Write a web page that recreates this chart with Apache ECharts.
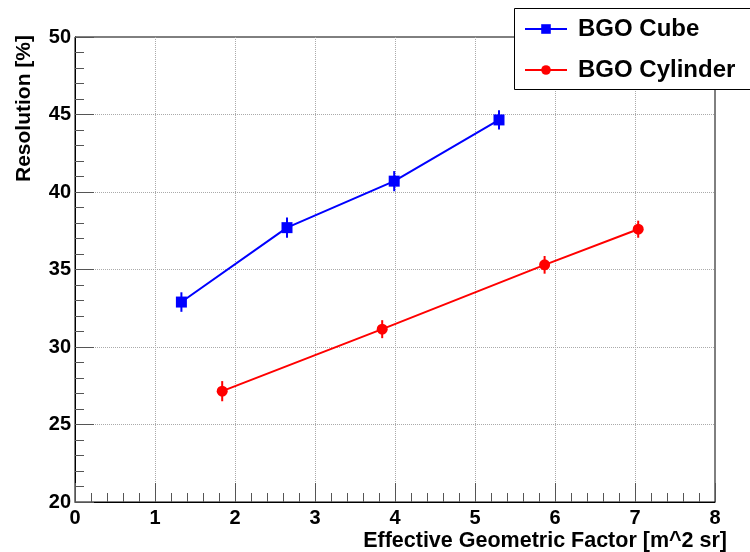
<!DOCTYPE html>
<html>
<head>
<meta charset="utf-8">
<script src="https://cdn.jsdelivr.net/npm/echarts@6/dist/echarts.min.js"></script>
<style>
  html, body { margin: 0; padding: 0; background: #fff; }
  #chart { width: 750px; height: 552px; }
</style>
</head>
<body>
<div id="chart"></div>
<script>
// BGO Cube: x = geometric factor, y = resolution, err = vertical error
var cubeX = [1.33, 2.65, 3.99, 5.30];
var cubeY = [32.9, 37.7, 40.7, 44.65];
var cubeErr = [0.63, 0.65, 0.65, 0.62];

var cylX = [1.84, 3.84, 5.87, 7.04];
var cylY = [27.15, 31.15, 35.3, 37.6];
var cylErr = [0.65, 0.58, 0.57, 0.55];

var FONT = '"Liberation Sans", Arial, Helvetica, sans-serif';

function pts(xs, ys) {
  return xs.map(function (x, i) { return [x, ys[i]]; });
}
function errs(xs, ys, es) {
  return xs.map(function (x, i) { return [x, ys[i] - es[i], ys[i] + es[i]]; });
}
function errorBars(name, color, data) {
  return {
    name: name,
    type: 'custom',
    data: data,
    z: 3,
    renderItem: function (params, api) {
      var lo = api.coord([api.value(0), api.value(1)]);
      var hi = api.coord([api.value(0), api.value(2)]);
      return {
        type: 'line',
        shape: { x1: lo[0], y1: lo[1], x2: hi[0], y2: hi[1] },
        style: { stroke: color, lineWidth: 2 }
      };
    }
  };
}

var chart = echarts.init(document.getElementById('chart'));
chart.setOption({
  animation: false,
  backgroundColor: '#fff',
  grid: { left: 75, right: 35, top: 37, bottom: 50, outerBoundsMode: 'none', containLabel: false,
    show: true, borderColor: '#000', borderWidth: 1 },
  xAxis: {
    type: 'value', min: 0, max: 8, interval: 1,
    axisLine: { lineStyle: { color: '#000', width: 1 } },
    axisTick: { inside: true, length: 19, lineStyle: { color: '#555' } },
    minorTick: { show: true, splitNumber: 5, length: 9, lineStyle: { color: '#555' } },
    axisLabel: { fontFamily: FONT, fontWeight: 'bold', fontSize: 20, color: '#000', margin: 6 },
    splitLine: { show: true, showMinLine: false, showMaxLine: false,
      lineStyle: { type: 'dotted', color: '#aaa', width: 1 } }
  },
  yAxis: {
    type: 'value', min: 20, max: 50, interval: 5,
    axisLine: { show: true, lineStyle: { color: '#000', width: 1 } },
    axisTick: { show: true, inside: true, length: 19, lineStyle: { color: '#555' } },
    minorTick: { show: true, splitNumber: 5, length: 9, lineStyle: { color: '#555' } },
    axisLabel: { fontFamily: FONT, fontWeight: 'bold', fontSize: 20, color: '#000', margin: 4 },
    splitLine: { show: true, showMinLine: false, showMaxLine: false,
      lineStyle: { type: 'dotted', color: '#aaa', width: 1 } }
  },
  legend: {
    orient: 'vertical', left: 524, top: 17, padding: 0,
    itemWidth: 42, itemHeight: 12, itemGap: 17,
    data: ['BGO Cube', 'BGO Cylinder'],
    textStyle: { fontFamily: FONT, fontWeight: 'bold', fontSize: 24, lineHeight: 24, color: '#000', padding: [0, 0, 0, 6] }
  },
  graphic: [{
    type: 'rect', z: 3,
    shape: { x: 514.5, y: 8.5, width: 240, height: 81 },
    style: { fill: '#fff', stroke: '#000', lineWidth: 1 }
  }, {
    type: 'text', z: 5,
    x: 24, y: 35, rotation: Math.PI / 2,
    style: { text: 'Resolution [%]', font: 'bold 21px ' + FONT, fill: '#000',
      align: 'right', verticalAlign: 'middle' }
  }, {
    type: 'text', z: 5,
    x: 727, y: 541,
    style: { text: 'Effective Geometric Factor [m^2 sr]', font: 'bold 21.5px ' + FONT, fill: '#000',
      align: 'right', verticalAlign: 'middle' }
  }],
  series: [
    {
      name: 'BGO Cube', type: 'line', data: pts(cubeX, cubeY),
      symbol: 'rect', symbolSize: 11,
      lineStyle: { color: '#0000ff', width: 2 }, itemStyle: { color: '#0000ff' }
    },
    errorBars('BGO Cube', '#0000ff', errs(cubeX, cubeY, cubeErr)),
    {
      name: 'BGO Cylinder', type: 'line', data: pts(cylX, cylY),
      symbol: 'circle', symbolSize: 11,
      lineStyle: { color: '#ff0000', width: 2 }, itemStyle: { color: '#ff0000' }
    },
    errorBars('BGO Cylinder', '#ff0000', errs(cylX, cylY, cylErr))
  ]
});
</script>
</body>
</html>
